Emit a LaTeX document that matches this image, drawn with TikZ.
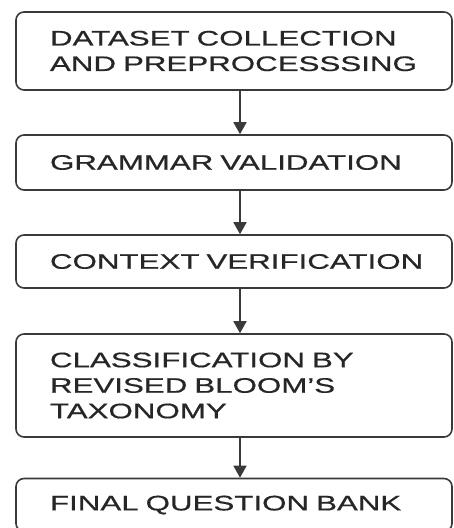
\documentclass[tikz,border=0pt]{standalone}
\usepackage{fontspec}
\newfontfamily\boxfont[FakeStretch=1.49,FakeBold=0.6]{Liberation Sans}
\usetikzlibrary{arrows.meta}
\definecolor{edge}{HTML}{3A3A3A}
\definecolor{ink}{HTML}{262626}
\begin{document}
\begin{tikzpicture}[x=1pt,y=-1pt,
  stage/.style={draw=edge, line width=1.6pt, rounded corners=8pt, fill=white,
    minimum width=436pt, text width=368pt, inner xsep=34pt, inner ysep=0pt,
    align=left, text=ink, font=\boxfont\fontsize{21}{25.5}\selectfont},
  arr/.style={draw=edge, line width=1.8pt, -{Triangle[width=13pt,length=12pt]}}]
\useasboundingbox (0,0) rectangle (454,528);
\clip (0,0) rectangle (454,528);
\node[stage, minimum height=78pt] (s1) at (234,51) {\mbox{DATASET COLLECTION}\\\mbox{AND PREPROCESSSING}};
\node[stage, minimum height=55pt] (s2) at (234,162.5) {\mbox{GRAMMAR VALIDATION}};
\node[stage, minimum height=53pt] (s3) at (234,261.5) {\mbox{CONTEXT VERIFICATION}};
\node[stage, minimum height=103pt] (s4) at (234,385.5) {\mbox{CLASSIFICATION BY}\\\mbox{REVISED BLOOM’S}\\\mbox{TAXONOMY}};
\node[stage, minimum height=53pt] (s5) at (234,505) {\mbox{FINAL QUESTION BANK}};
\draw[arr] ([xshift=6pt]s1.south) -- ([xshift=6pt]s2.north);
\draw[arr] ([xshift=6pt]s2.south) -- ([xshift=6pt]s3.north);
\draw[arr] ([xshift=6pt]s3.south) -- ([xshift=6pt]s4.north);
\draw[arr] ([xshift=6pt]s4.south) -- ([xshift=6pt]s5.north);
\end{tikzpicture}
\end{document}
